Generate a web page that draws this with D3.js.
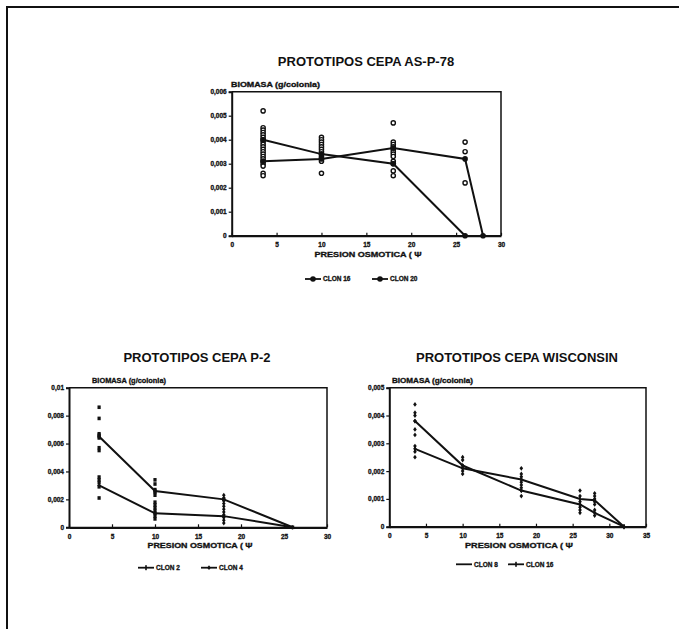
<!DOCTYPE html>
<html>
<head>
<meta charset="utf-8">
<script src="https://cdn.jsdelivr.net/npm/d3@7"></script>
<style>
  html, body { margin: 0; padding: 0; background: #fff; }
  svg { display: block; }
  text { font-family: "Liberation Sans", Arial, sans-serif; font-weight: bold; fill: #111; }
  .small { stroke: #111; stroke-width: 0.3; }
</style>
</head>
<body>
<svg id="chart" width="679" height="629"></svg>
<script>
// ---- AS-P-78 ----
const aspX16 = [3.5, 10, 18, 26];
const aspClon16 = [0.0040, 0.0034, 0.0030, 0];
const aspX20 = [3.5, 10, 18, 26, 28];
const aspClon20 = [0.0031, 0.0032, 0.00365, 0.0032, 0];
const aspObsX = [3.5, 10, 18, 26];
const aspObs = [
  [0.0052, 0.0045, 0.0044, 0.0043, 0.0042, 0.0041, 0.0040, 0.0039, 0.0038, 0.0037, 0.0036, 0.0035, 0.0034, 0.0033, 0.0032, 0.0031, 0.0030, 0.0029, 0.0026, 0.0025],
  [0.0041, 0.0040, 0.0039, 0.0038, 0.0037, 0.0036, 0.0035, 0.0034, 0.0033, 0.0032, 0.0031, 0.0026],
  [0.0047, 0.0039, 0.0038, 0.0037, 0.0036, 0.0035, 0.0034, 0.0033, 0.0031, 0.0030, 0.0027, 0.0025],
  [0.0039, 0.0035, 0.0022]
];
const aspYTicks = [0, 0.001, 0.002, 0.003, 0.004, 0.005, 0.006];
const aspXTicks = [0, 5, 10, 15, 20, 25, 30];

// ---- P-2 ----
const p2X = [3.5, 10, 18, 26];
const p2Clon2 = [0.0065, 0.0026, 0.0020, 0];
const p2Clon4 = [0.0030, 0.0010, 0.0008, 0];
const p2ObsX = [3.5, 10, 18];
const p2Obs = [
  [0.0086, 0.0078, 0.0067, 0.0066, 0.0064, 0.0057, 0.0055, 0.0036, 0.0034, 0.0032, 0.0029, 0.0021],
  [0.0034, 0.0031, 0.0027, 0.0025, 0.0023, 0.0018, 0.0016, 0.0014, 0.0012, 0.0010, 0.0008, 0.0006],
  [0.0023, 0.0021, 0.0019, 0.0017, 0.0015, 0.0013, 0.0011, 0.0009, 0.0007, 0.0005, 0.0003]
];
const p2YTicks = [0, 0.002, 0.004, 0.006, 0.008, 0.01];
const p2XTicks = [0, 5, 10, 15, 20, 25, 30];

// ---- WISCONSIN ----
const wiX = [3.5, 10, 18, 26, 28, 32];
const wiClon8 = [0.0028, 0.0021, 0.0017, 0.0010, 0.00095, 0];
const wiClon16 = [0.0038, 0.0022, 0.0013, 0.0008, 0.0005, 0];
const wiObsX = [3.5, 10, 18, 26, 28];
const wiObs = [
  [0.0044, 0.0041, 0.0040, 0.0038, 0.0035, 0.0033, 0.0029, 0.0028, 0.0027, 0.0025],
  [0.0025, 0.0024, 0.0022, 0.0021, 0.0020, 0.0019],
  [0.0021, 0.0019, 0.0018, 0.0017, 0.0016, 0.0015, 0.0014, 0.0013, 0.0011],
  [0.0013, 0.0011, 0.0009, 0.0007, 0.0006, 0.0005],
  [0.0012, 0.0011, 0.0010, 0.0009, 0.0008, 0.0006, 0.0004]
];
const wiYTicks = [0, 0.001, 0.002, 0.003, 0.004, 0.005];
const wiXTicks = [0, 5, 10, 15, 20, 25, 30, 35];

const svg = d3.select("#chart");

// page frame (top and left edges)
svg.append("path")
  .attr("d", "M7,629 L7,7 L679,7")
  .attr("fill", "none").attr("stroke", "#111").attr("stroke-width", 2);

const yFmt = d => d === 0 ? "0" : d3.format(d === 0.01 ? ".2f" : ".3f")(d).replace(".", ",");

// marker painters
function marker(g, kind, cx, cy) {
  if (kind === "openCircle") {
    g.append("circle").attr("cx", cx).attr("cy", cy).attr("r", 2.1)
      .attr("fill", "#fff").attr("stroke", "#111").attr("stroke-width", 1.4);
  } else if (kind === "dot") {
    g.append("circle").attr("cx", cx).attr("cy", cy).attr("r", 2.8).attr("fill", "#111");
  } else if (kind === "square") {
    g.append("rect").attr("x", cx - 1.6).attr("y", cy - 1.8).attr("width", 3.2).attr("height", 3.6).attr("fill", "#111");
  } else if (kind === "diamond") {
    g.append("path").attr("d", `M${cx},${cy - 2.4}L${cx + 1.8},${cy}L${cx},${cy + 2.4}L${cx - 1.8},${cy}Z`).attr("fill", "#111");
  } else if (kind === "bar") {
    g.append("rect").attr("x", cx - 0.8).attr("y", cy - 2.5).attr("width", 1.6).attr("height", 5).attr("fill", "#111");
  }
}

function panel(cfg) {
  const x = d3.scaleLinear().domain(cfg.xDomain).range([cfg.left, cfg.right]);
  const y = d3.scaleLinear().domain(cfg.yDomain).range([cfg.bottom, cfg.top]);
  const g = svg.append("g");

  // title
  g.append("text").attr("x", cfg.titleX).attr("y", cfg.top - 26)
    .attr("text-anchor", "middle").attr("font-size", 13).text(cfg.title);
  // y axis title
  g.append("text").attr("class", "small").attr("x", cfg.yTitleX).attr("y", cfg.top - 5)
    .attr("font-size", 6.5).attr("textLength", cfg.yTitleW).attr("lengthAdjust", "spacingAndGlyphs")
    .text("BIOMASA (g/colonia)");

  // box: top and right
  g.append("path")
    .attr("d", `M${cfg.left},${cfg.top}L${cfg.right},${cfg.top}L${cfg.right},${cfg.bottom}`)
    .attr("fill", "none").attr("stroke", "#111").attr("stroke-width", 1.5);

  // y axis
  const ya = g.append("g").attr("transform", `translate(${cfg.left},0)`)
    .call(d3.axisLeft(y).tickValues(cfg.yTicks).tickFormat(yFmt).tickSize(3).tickPadding(2));
  ya.select(".domain").attr("stroke", "#111").attr("stroke-width", 2);
  ya.selectAll(".tick line").attr("stroke", "#111").attr("stroke-width", 1.2);
  ya.selectAll(".tick text").attr("class", "small").attr("font-size", 6.5)
    .attr("font-family", "Liberation Sans, Arial, sans-serif")
    .attr("font-weight", "bold").attr("fill", "#111");

  // x axis
  const xa = g.append("g").attr("transform", `translate(0,${cfg.bottom})`)
    .call(d3.axisBottom(x).tickValues(cfg.xTicks).tickSizeInner(-3).tickSizeOuter(0).tickPadding(7));
  xa.select(".domain").attr("stroke", "#111").attr("stroke-width", 2.2);
  xa.selectAll(".tick line").attr("stroke", "#111").attr("stroke-width", 1.2);
  xa.selectAll(".tick text").attr("class", "small").attr("font-size", 6.5)
    .attr("font-family", "Liberation Sans, Arial, sans-serif")
    .attr("font-weight", "bold").attr("fill", "#111");

  // x axis title
  g.append("text").attr("class", "small").attr("x", cfg.xTitleX).attr("y", cfg.bottom + 21)
    .attr("text-anchor", "middle").attr("font-size", 7)
    .attr("textLength", cfg.xTitleW).attr("lengthAdjust", "spacingAndGlyphs")
    .text("PRESION OSMOTICA ( \u03A8");

  // observations
  cfg.obsX.forEach((xv, i) => {
    cfg.obs[i].forEach(v => marker(g, cfg.obsMarker[i % cfg.obsMarker.length], x(xv), y(v)));
  });

  // fitted lines
  const line = d3.line().x(d => x(d[0])).y(d => y(d[1]));
  cfg.series.forEach(s => {
    const pts = s.x.map((xv, i) => [xv, s.y[i]]);
    g.append("path").datum(pts).attr("d", line)
      .attr("fill", "none").attr("stroke", "#111").attr("stroke-width", 2);
    pts.forEach(p => marker(g, s.marker, x(p[0]), y(p[1])));
  });

  // legend
  cfg.series.forEach((s, i) => {
    const lx = cfg.legendX[i], ly = cfg.legendY;
    g.append("line").attr("x1", lx).attr("x2", lx + 16).attr("y1", ly).attr("y2", ly)
      .attr("stroke", "#111").attr("stroke-width", 1.8);
    if (s.legendMarker) marker(g, s.legendMarker, lx + 8, ly);
    g.append("text").attr("class", "small").attr("x", lx + 18).attr("y", ly + 2.3)
      .attr("font-size", 6.5).text(s.name);
  });
}

panel({
  title: "PROTOTIPOS CEPA AS-P-78", titleX: 366,
  left: 231.7, right: 501, top: 91.7, bottom: 235.7,
  xDomain: [0, 30], yDomain: [0, 0.006],
  xTicks: aspXTicks, yTicks: aspYTicks,
  yTitleX: 231, yTitleW: 89, xTitleX: 368, xTitleW: 107,
  obsX: aspObsX, obs: aspObs, obsMarker: ["openCircle"],
  series: [
    { name: "CLON 16", x: aspX16, y: aspClon16, marker: "dot", legendMarker: "dot" },
    { name: "CLON 20", x: aspX20, y: aspClon20, marker: "dot", legendMarker: "dot" }
  ],
  legendX: [305, 372], legendY: 279
});

panel({
  title: "PROTOTIPOS CEPA P-2", titleX: 197,
  left: 69, right: 327, top: 387.7, bottom: 527.3,
  xDomain: [0, 30], yDomain: [0, 0.01],
  xTicks: p2XTicks, yTicks: p2YTicks,
  yTitleX: 92, yTitleW: 74, xTitleX: 200, xTitleW: 105,
  obsX: p2ObsX, obs: p2Obs, obsMarker: ["square", "square", "diamond"],
  series: [
    { name: "CLON 2", x: p2X, y: p2Clon2, marker: "square", legendMarker: "bar" },
    { name: "CLON 4", x: p2X, y: p2Clon4, marker: "diamond", legendMarker: "diamond" }
  ],
  legendX: [138, 201], legendY: 567.7
});

panel({
  title: "PROTOTIPOS CEPA WISCONSIN", titleX: 517,
  left: 389.3, right: 646, top: 387.7, bottom: 526.7,
  xDomain: [0, 35], yDomain: [0, 0.005],
  xTicks: wiXTicks, yTicks: wiYTicks,
  yTitleX: 392, yTitleW: 81, xTitleX: 519, xTitleW: 108,
  obsX: wiObsX, obs: wiObs, obsMarker: ["diamond"],
  series: [
    { name: "CLON 8", x: wiX, y: wiClon8, marker: "bar", legendMarker: null },
    { name: "CLON 16", x: wiX, y: wiClon16, marker: "diamond", legendMarker: "bar" }
  ],
  legendX: [456, 508], legendY: 564.3
});
</script>
</body>
</html>
